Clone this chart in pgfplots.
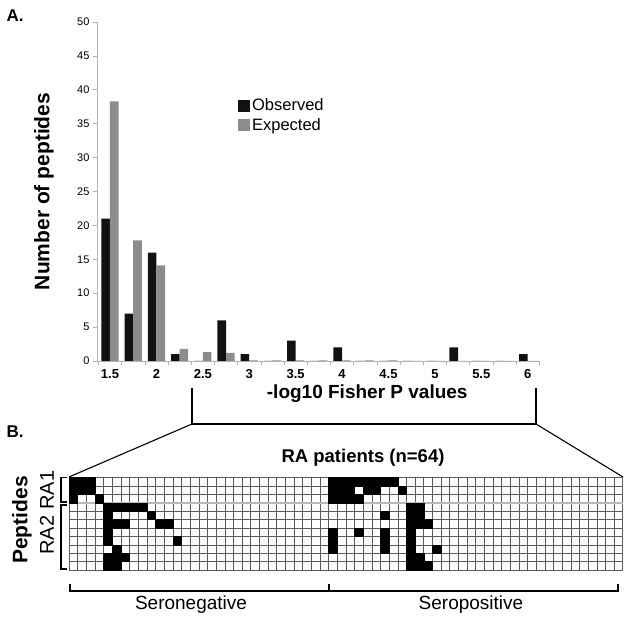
\documentclass[border=0pt]{standalone}
\usepackage{fontspec}
\setmainfont{Liberation Sans}
\usepackage{pgfplots}
\pgfplotsset{compat=1.18}
\definecolor{obs}{HTML}{111111}
\definecolor{expd}{HTML}{8C8C8C}
\begin{document}
\begin{tikzpicture}[x=1pt,y=1pt]
\useasboundingbox (0,0) rectangle (629,617);
\node[anchor=west,font=\bfseries\fontsize{17}{17}\selectfont] at (3,601) {A.};
\begin{axis}[at={(97pt,256pt)}, anchor=south west, scale only axis,
  width=443pt, height=339pt,
  xmin=-0.56, xmax=18.53, ymin=0, ymax=50,
  axis x line*=bottom, axis y line*=left,
  axis line style={gray!60, line width=0.8pt, -},
  ybar=0pt, bar width=8.6pt,
  xtick={0,2,...,18}, xticklabels={1.5,2,2.5,3,3.5,4,4.5,5,5.5,6},
  minor xtick={-0.5,0.5,...,18.5},
  major x tick style={draw=none},
  ytick={0,5,...,50},
  tick align=outside, major tick length=4pt, minor tick length=4pt,
  tick style={gray!60, line width=0.6pt},
  /pgf/number format/assume math mode=true,
  xticklabel style={font=\bfseries\fontsize{13}{13}\selectfont, yshift=-1pt},
  yticklabel style={font=\fontsize{11}{11}\selectfont},
  xlabel={-log10 Fisher P values},
  xlabel style={font=\bfseries\fontsize{19}{19}\selectfont, at={(axis description cs:0.61,-0.095)}, anchor=center},
  ylabel={Number of peptides},
  ylabel style={font=\bfseries\fontsize{21}{21}\selectfont, at={(axis description cs:-0.12,0.5)}, anchor=center},
  legend style={draw=none, fill=none, at={(axis description cs:0.318,0.78)}, anchor=north west,
    font=\fontsize{16.5}{16.5}\selectfont, inner sep=0pt, row sep=2pt, nodes={inner sep=2pt}},
  legend image code/.code={\fill[#1,draw=none] (0pt,-6pt) rectangle (12pt,6pt);},
  legend cell align=left,
]
\addplot[fill=obs, draw=none] table[x=x,y=y] {
x y
0 21
1 7
2 16
3 1
4 0
5 6
6 1
7 0
8 3
9 0
10 2
11 0
12 0
13 0
14 0
15 2
16 0
17 0
18 1
};
\addplot[fill=expd, draw=none] table[x=x,y=y] {
x y
0 38.3
1 17.8
2 14.1
3 1.8
4 1.3
5 1.2
6 0.1
7 0.1
8 0.1
9 0.1
10 0.1
11 0.1
12 0.1
13 0
14 0
15 0
16 0
17 0
18 0
};
\legend{Observed, Expected}
\end{axis}

% Part B
\node[anchor=west,font=\bfseries\fontsize{17}{17}\selectfont] at (3,185) {B.};
\draw[line width=1.1pt] (192,229) -- (192,193) -- (536,193) -- (536,229);
\draw[line width=1.1pt] (192,193) -- (69,140);
\draw[line width=1.1pt] (536,193) -- (623,140);
\node[font=\bfseries\fontsize{18.5}{18.5}\selectfont] at (363,159) {RA patients (n=64)};

\begin{axis}[at={(69pt,47pt)}, anchor=south west, scale only axis,
  width=553.7pt, height=92.5pt,
  xmin=0, xmax=64, ymin=0, ymax=11,
  xtick={0,...,64}, ytick={0,...,11},
  xticklabels={}, yticklabels={},
  major tick length=0pt,
  grid=major, grid style={black!65, line width=0.45pt},
  axis line style={black!65, line width=0.45pt},
  clip=false]
\addplot[only marks, mark=square*, mark size=4.33pt,
  mark options={draw=none, fill=black, yscale=0.972}] table[x=x,y=y] {
x y
0.5 10.5
1.5 10.5
2.5 10.5
30.5 10.5
31.5 10.5
32.5 10.5
33.5 10.5
34.5 10.5
35.5 10.5
36.5 10.5
37.5 10.5
0.5 9.5
1.5 9.5
2.5 9.5
30.5 9.5
31.5 9.5
32.5 9.5
34.5 9.5
35.5 9.5
38.5 9.5
0.5 8.5
3.5 8.5
30.5 8.5
31.5 8.5
32.5 8.5
33.5 8.5
4.5 7.5
5.5 7.5
6.5 7.5
7.5 7.5
8.5 7.5
39.5 7.5
40.5 7.5
4.5 6.5
9.5 6.5
36.5 6.5
39.5 6.5
40.5 6.5
4.5 5.5
5.5 5.5
6.5 5.5
10.5 5.5
11.5 5.5
39.5 5.5
40.5 5.5
41.5 5.5
4.5 4.5
30.5 4.5
33.5 4.5
36.5 4.5
39.5 4.5
4.5 3.5
12.5 3.5
30.5 3.5
36.5 3.5
39.5 3.5
5.5 2.5
30.5 2.5
36.5 2.5
39.5 2.5
42.5 2.5
4.5 1.5
5.5 1.5
6.5 1.5
39.5 1.5
40.5 1.5
4.5 0.5
5.5 0.5
39.5 0.5
40.5 0.5
41.5 0.5
};
\draw[gray!55, line width=1.6pt] (axis cs:0,8) -- (axis cs:64,8);
\end{axis}

% row labels and brackets
\draw[line width=1.3pt] (67,139.5) -- (61,139.5) -- (61,115) -- (67,115);
\draw[line width=1.3pt] (67,112) -- (61,112) -- (61,48) -- (67,48);
\node[rotate=90, font=\fontsize{20}{20}\selectfont] at (47,127) {RA1};
\node[rotate=90, font=\fontsize{20}{20}\selectfont] at (47,82) {RA2};
\node[rotate=90, font=\bfseries\fontsize{21}{21}\selectfont] at (22,97) {Peptides};

% column group brackets
\draw[line width=1.1pt] (70,33) -- (70,26) -- (618,26) -- (618,33);
\draw[line width=1.1pt] (329,33) -- (329,26);
\node[font=\fontsize{19}{19}\selectfont] at (191,12) {Seronegative};
\node[font=\fontsize{19}{19}\selectfont] at (471,12) {Seropositive};
\end{tikzpicture}
\end{document}
